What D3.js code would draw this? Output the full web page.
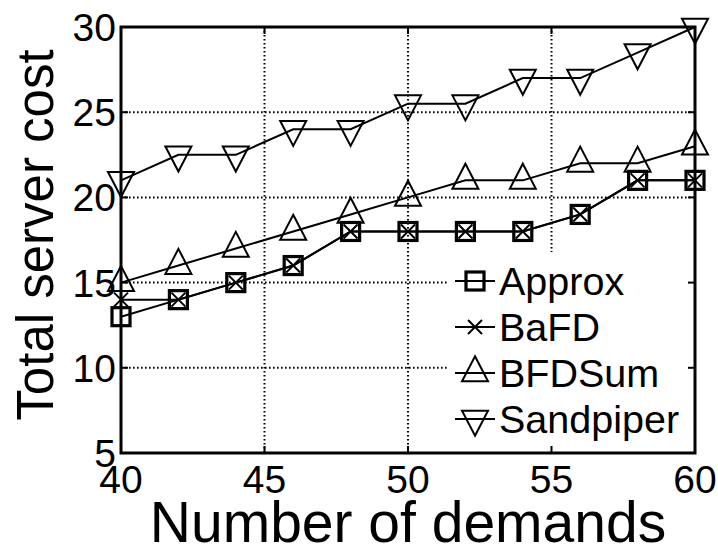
<!DOCTYPE html>
<html>
<head>
<meta charset="utf-8">
<script src="https://cdn.jsdelivr.net/npm/d3@7"></script>
<style>
  body { margin: 0; background: #fff; }
  text { font-family: "Liberation Sans", Arial, sans-serif; fill: #000; }
</style>
</head>
<body>
<div id="chart"></div>
<script>
// Data
const demands = [40, 42, 44, 46, 48, 50, 52, 54, 56, 58, 60];
const approx = [13, 14, 15, 16, 18, 18, 18, 18, 19, 21, 21];
const bafd = [14, 14, 15, 16, 18, 18, 18, 18, 19, 21, 21];
const bfdSum = [15, 16, 17, 18, 19, 20, 21, 21, 22, 22, 23];
const sandpiper = [21, 22.5, 22.5, 24, 24, 25.5, 25.5, 27, 27, 28.5, 30];
const xTicks = [40, 45, 50, 55, 60];
const yTicks = [5, 10, 15, 20, 25, 30];
const seriesNames = ["Approx", "BaFD", "BFDSum", "Sandpiper"];

const W = 718, H = 548;
const margin = { top: 27, right: 23, bottom: 95, left: 121 };
const width = W - margin.left - margin.right;
const height = H - margin.top - margin.bottom;

const svg = d3.select("#chart")
    .append("svg")
    .attr("width", W)
    .attr("height", H);

const g = svg.append("g")
    .attr("transform", `translate(${margin.left},${margin.top})`);

const x = d3.scaleLinear().domain([40, 60]).range([0, width]);
const y = d3.scaleLinear().domain([5, 30]).range([height, 0]);

// Marker shapes
function triPath(dir) {
    const w = 26, h = 25;
    const a = dir * (-2 * h / 3), b = dir * (h / 3);
    return `M0,${a}L${w / 2},${b}L${-w / 2},${b}Z`;
}
const sq = 18;
const markers = {
    square: sel => sel.append("rect")
        .attr("x", -sq / 2).attr("y", -sq / 2)
        .attr("width", sq).attr("height", sq)
        .attr("fill", "none").attr("stroke", "#000").attr("stroke-width", 3.2),
    cross: sel => sel.append("path")
        .attr("d", "M-7,-7L7,7M-7,7L7,-7")
        .attr("fill", "none").attr("stroke", "#000").attr("stroke-width", 2),
    up: sel => sel.append("path")
        .attr("d", triPath(1))
        .attr("fill", "none").attr("stroke", "#000").attr("stroke-width", 2),
    down: sel => sel.append("path")
        .attr("d", triPath(-1))
        .attr("fill", "none").attr("stroke", "#000").attr("stroke-width", 2)
};

// Grid (dotted)
g.append("g")
    .selectAll("line")
    .data(xTicks.slice(1, -1))
    .join("line")
    .attr("x1", d => x(d)).attr("x2", d => x(d))
    .attr("y1", 0).attr("y2", height)
    .attr("stroke", "#000").attr("stroke-width", 2)
    .attr("stroke-dasharray", "1.6,2.4");

g.append("g")
    .selectAll("line")
    .data(yTicks.slice(1, -1))
    .join("line")
    .attr("y1", d => y(d)).attr("y2", d => y(d))
    .attr("x1", 0).attr("x2", width)
    .attr("stroke", "#000").attr("stroke-width", 2)
    .attr("stroke-dasharray", "1.6,2.4");

// Series
const series = [
    { name: "Sandpiper", values: sandpiper, marker: "down" },
    { name: "BFDSum", values: bfdSum, marker: "up" },
    { name: "Approx", values: approx, marker: "square" },
    { name: "BaFD", values: bafd, marker: "cross" }
];

const line = d3.line()
    .x((d, i) => x(demands[i]))
    .y(d => y(d));

series.forEach(s => {
    g.append("path")
        .datum(s.values)
        .attr("fill", "none")
        .attr("stroke", "#000")
        .attr("stroke-width", 2)
        .attr("d", line);

    s.values.forEach((v, i) => {
        const m = g.append("g")
            .attr("transform", `translate(${x(demands[i])},${y(v)})`);
        markers[s.marker](m);
    });
});

// Legend (white box, no border)
const legX = 447 - margin.left, legY = 252 - margin.top;
g.append("rect")
    .attr("x", legX).attr("y", legY)
    .attr("width", width - legX).attr("height", height - legY)
    .attr("fill", "#fff");

const legendMarkers = { Approx: "square", BaFD: "cross", BFDSum: "up", Sandpiper: "down" };
seriesNames.forEach((name, i) => {
    const base = 295 - margin.top + i * 46;
    const ly = base - 14;
    const row = g.append("g");
    row.append("line")
        .attr("x1", 455 - margin.left).attr("x2", 495 - margin.left)
        .attr("y1", ly).attr("y2", ly)
        .attr("stroke", "#000").attr("stroke-width", 2);
    const m = row.append("g")
        .attr("transform", `translate(${475 - margin.left},${ly})`);
    markers[legendMarkers[name]](m);
    row.append("text")
        .attr("x", 499 - margin.left)
        .attr("y", base)
        .style("font-size", "39.5px")
        .text(name);
});

// Axes frame
g.append("rect")
    .attr("width", width).attr("height", height)
    .attr("fill", "none").attr("stroke", "#000").attr("stroke-width", 3);

// Tick marks (inward, on all sides)
const tl = 7;
xTicks.forEach(t => {
    g.append("line").attr("x1", x(t)).attr("x2", x(t)).attr("y1", height).attr("y2", height - tl)
        .attr("stroke", "#000").attr("stroke-width", 2);
    g.append("line").attr("x1", x(t)).attr("x2", x(t)).attr("y1", 0).attr("y2", tl)
        .attr("stroke", "#000").attr("stroke-width", 2);
});
yTicks.forEach(t => {
    g.append("line").attr("y1", y(t)).attr("y2", y(t)).attr("x1", 0).attr("x2", tl)
        .attr("stroke", "#000").attr("stroke-width", 2);
    g.append("line").attr("y1", y(t)).attr("y2", y(t)).attr("x1", width).attr("x2", width - tl)
        .attr("stroke", "#000").attr("stroke-width", 2);
});

// Tick labels
g.append("g")
    .selectAll("text")
    .data(xTicks)
    .join("text")
    .attr("x", d => x(d))
    .attr("y", height + 40)
    .attr("text-anchor", "middle")
    .style("font-size", "39px")
    .text(d => d);

g.append("g")
    .selectAll("text")
    .data(yTicks)
    .join("text")
    .attr("x", -5)
    .attr("y", d => y(d))
    .attr("dy", "0.36em")
    .attr("text-anchor", "end")
    .style("font-size", "39px")
    .text(d => d);

// Axis labels
g.append("text")
    .attr("x", width / 2)
    .attr("y", height + 89)
    .attr("text-anchor", "middle")
    .style("font-size", "57px")
    .text("Number of demands");

g.append("text")
    .attr("transform", "rotate(-90)")
    .attr("x", -(235 - margin.top))
    .attr("y", 53 - margin.left)
    .attr("text-anchor", "middle")
    .style("font-size", "51px")
    .text("Total server cost");
</script>
</body>
</html>
